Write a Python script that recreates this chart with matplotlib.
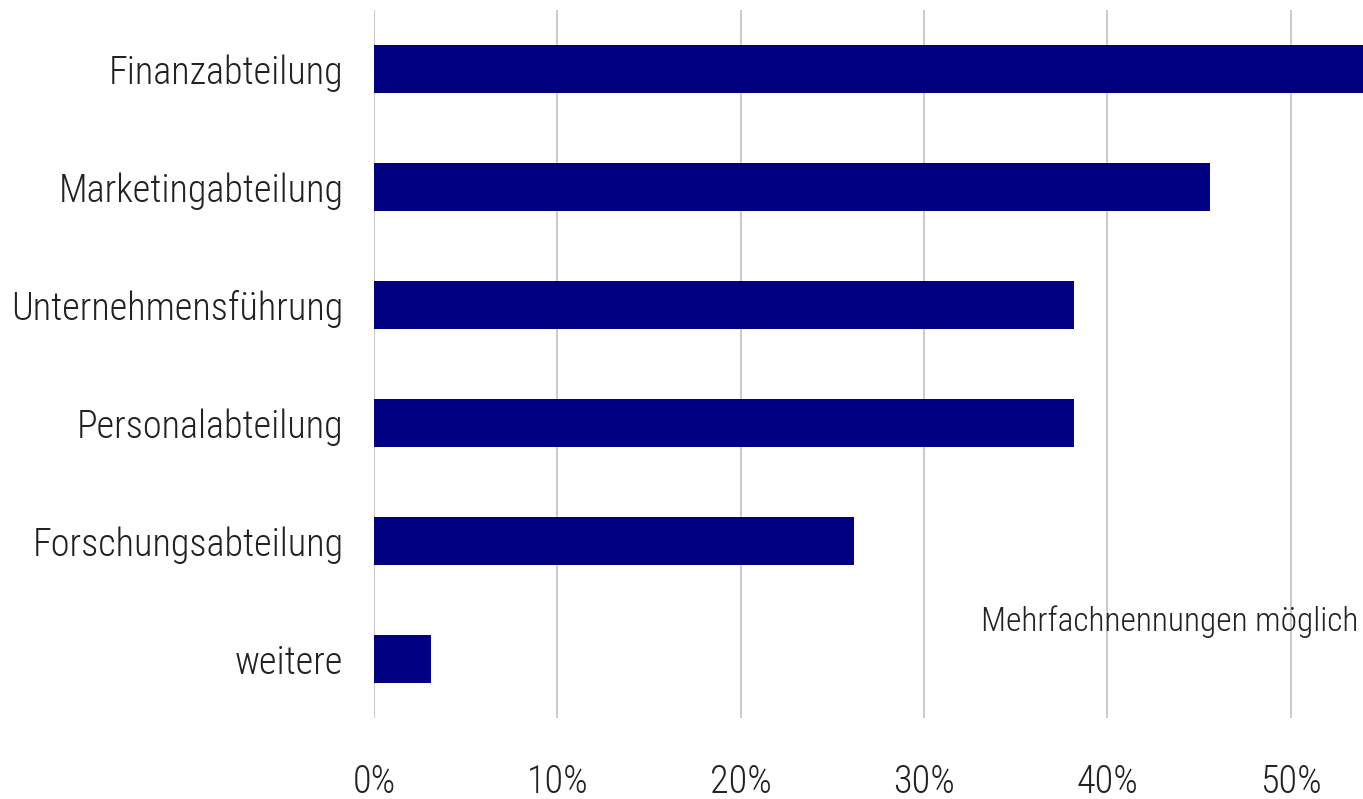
import matplotlib
matplotlib.use("Agg")
import matplotlib.pyplot as plt

# data
categories = ["Finanzabteilung", "Marketingabteilung", "Unternehmensführung",
              "Personalabteilung", "Forschungsabteilung", "weitere"]
shares = [56.0, 45.6, 38.2, 38.2, 26.2, 3.1]
xticks = [0, 10, 20, 30, 40, 50]
note = "Mehrfachnennungen möglich"

plt.rcParams['font.family'] = ['Roboto Condensed', 'Liberation Sans Narrow', 'DejaVu Sans']
plt.rcParams['font.stretch'] = 'condensed'
plt.rcParams['font.weight'] = 'light'
text_color = "#222222"

fig = plt.figure(figsize=(13.63, 7.99), dpi=100)
ax = fig.add_axes([374 / 1363, 81 / 799, 989 / 1363, 708 / 799])

y = range(len(categories))
ax.barh(y, shares, height=0.41, color="#000080", zorder=3)

ax.set_xlim(0, 53.95)
ax.set_ylim(5.5, -0.5)
ax.set_yticks(list(y))
ax.set_yticklabels(categories)
ax.set_xticks(xticks)
ax.set_xticklabels([f"{t}%" for t in xticks])

ax.tick_params(axis="y", length=0, pad=22, labelsize=27.5, labelcolor=text_color)
ax.tick_params(axis="x", length=0, pad=33, labelsize=27.5, labelcolor=text_color)
ax.grid(axis="x", color="#cccccc", linewidth=1.5, zorder=0)
for side in ax.spines.values():
    side.set_visible(False)

ax.text(53.7, 4.68, note, ha="right", va="center", fontsize=24, color=text_color)

fig.savefig("out.png", dpi=100, facecolor="white")
